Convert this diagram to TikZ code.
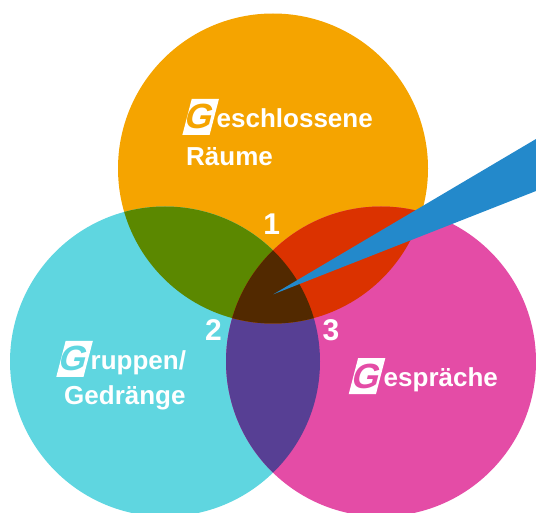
\documentclass[tikz,border=0pt]{standalone}
\usepackage{fontspec}
\setmainfont{Liberation Sans}
\usetikzlibrary{positioning}

\definecolor{gOrange}{HTML}{F5A400}
\definecolor{gCyan}{HTML}{5FD6E0}
\definecolor{gPink}{HTML}{E44CA6}
\definecolor{gGreen}{HTML}{5B8800}
\definecolor{gRed}{HTML}{DB3200}
\definecolor{gPurple}{HTML}{573F94}
\definecolor{gBrown}{HTML}{522900}
\definecolor{gBlue}{HTML}{2389CB}

\tikzset{
  ring/.style={radius=155pt},
  gbox/.style={fill=white,text=#1,xslant=0.26,transform shape,inner sep=0pt,
    minimum width=27pt,minimum height=36pt,font=\fontsize{35}{35}\selectfont\bfseries},
  lbl/.style={text=white,inner sep=0pt,anchor=base west,font=\fontsize{26}{32}\selectfont\bfseries},
  num/.style={text=white,inner sep=0pt,font=\fontsize{30}{30}\selectfont\bfseries}
}

\begin{document}
\begin{tikzpicture}[x=1pt,y=-1pt]
  \useasboundingbox (0,0) rectangle (536,513);
  \coordinate (cO) at (273,168.5);
  \coordinate (cC) at (165,361.5);
  \coordinate (cP) at (381,361.5);
  \fill[gOrange] (cO) circle[ring];
  \fill[gCyan] (cC) circle[ring];
  \fill[gPink] (cP) circle[ring];
  \begin{scope}
    \clip (cC) circle[ring];
    \fill[gPurple] (cP) circle[ring];
  \end{scope}
  \begin{scope}
    \clip (cO) circle[ring];
    \fill[gGreen] (cC) circle[ring];
    \fill[gRed] (cP) circle[ring];
    \clip (cC) circle[ring];
    \fill[gBrown] (cP) circle[ring];
  \end{scope}

  \coordinate (tip) at (273.3,294.3);
  \coordinate (ra) at (536,139);
  \coordinate (rb) at (536,191);
  \fill[gBlue] (tip) -- (ra) -- (rb) -- cycle;

  \node[gbox=gOrange] (gA) at (200.7,116.8) {G};
  \node[lbl] (tA) at (216.5,127.3) {eschlossene};
  \node[lbl] (tA2) at (186,166) {Räume};
  \node[gbox=gCyan] (gB) at (74.6,358.8) {G};
  \node[lbl] (tB) at (90.5,369.3) {ruppen/};
  \node[lbl] (tB2) at (64,404) {Gedränge};
  \node[gbox=gPink] (gC) at (367,376.2) {G};
  \node[lbl] (tC) at (383.5,386.7) {espräche};

  \node[num] (n1) at (271.7,224) {1};
  \node[num] (n2) at (213.5,330) {2};
  \node[num] (n3) at (331,330) {3};
\end{tikzpicture}
\end{document}
